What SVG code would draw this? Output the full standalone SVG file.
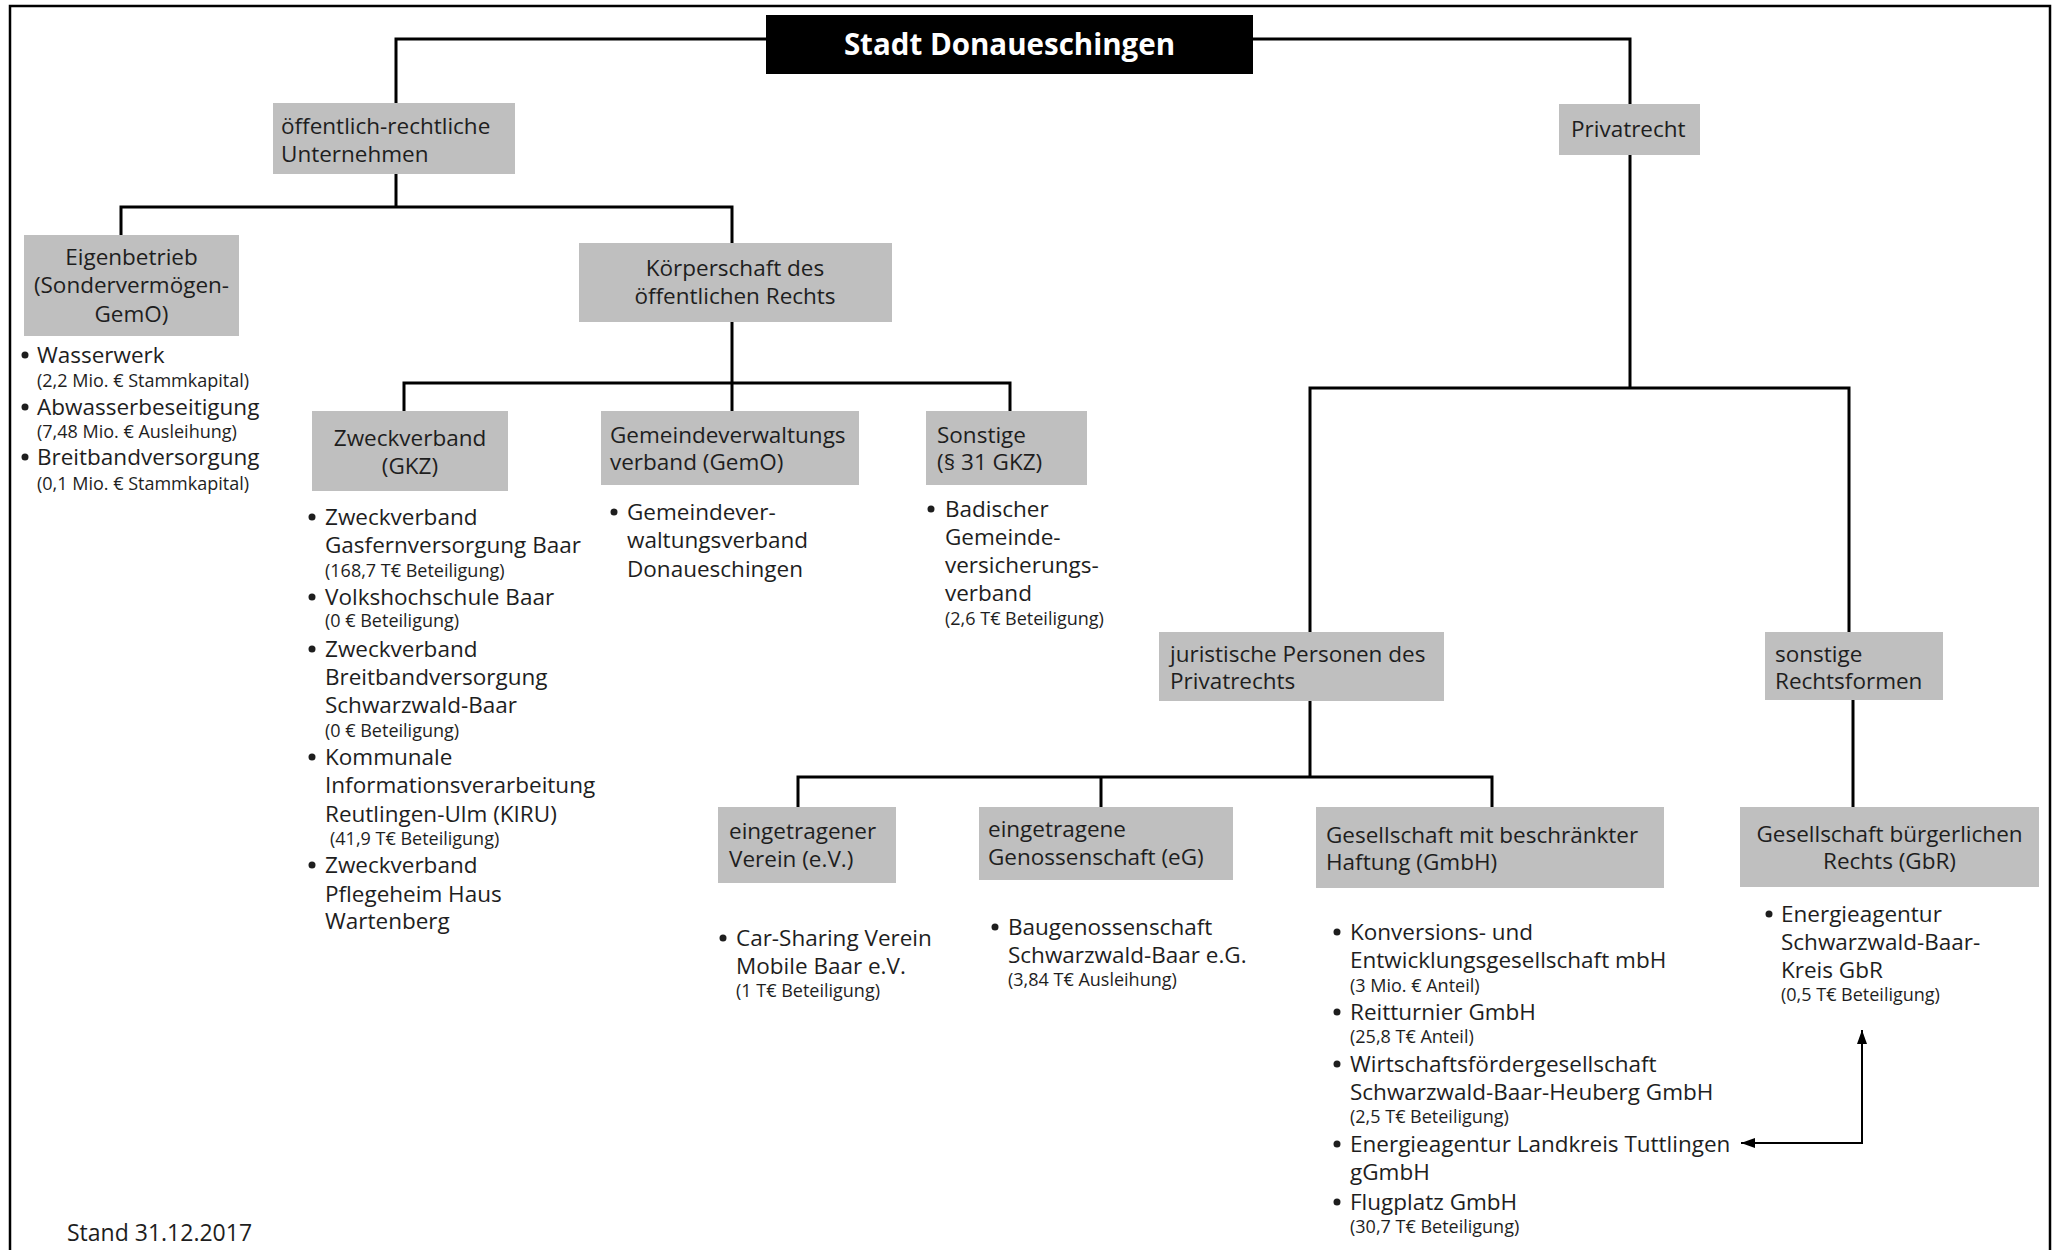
<svg xmlns="http://www.w3.org/2000/svg" width="2058" height="1250" viewBox="0 0 2058 1250">
<style>
text{font-family:"Open Sans","Liberation Sans",sans-serif;fill:#1e1e1e}
.t{font-size:22.5px}
.s{font-size:18px}
.c{text-anchor:middle}
.box{fill:#bfbfbf}
.ln{fill:none;stroke:#000;stroke-width:3}
.ar{fill:none;stroke:#000;stroke-width:2}
.b{fill:#1e1e1e}
</style>
<defs>
<marker id="ah" viewBox="0 0 14 10" refX="14" refY="5" markerWidth="14" markerHeight="10" markerUnits="userSpaceOnUse" orient="auto-start-reverse">
<path d="M0,0 L14,5 L0,10 z" fill="#000"/>
</marker>
</defs>
<rect x="0" y="0" width="2058" height="1250" fill="#fff"/>
<rect id="frame" x="10" y="6" width="2040" height="1260" fill="none" stroke="#000" stroke-width="2.5"/>

<g id="connectors">
<path class="ln" d="M396,103 V39 H1630 V104"/>
<path class="ln" d="M396,174 V207"/>
<path class="ln" d="M121,235 V207 H732 V243"/>
<path class="ln" d="M732,322 V383"/>
<path class="ln" d="M404,411 V383 H1010 V411"/>
<path class="ln" d="M732,383 V411"/>
<path class="ln" d="M1630,155 V388"/>
<path class="ln" d="M1310,632 V388 H1849 V632"/>
<path class="ln" d="M1310,701 V777"/>
<path class="ln" d="M798,807 V777 H1492 V807"/>
<path class="ln" d="M1101,777 V807"/>
<path class="ln" d="M1853,700 V807"/>
<path class="ar" d="M1741,1143 H1862 V1030" marker-start="url(#ah)" marker-end="url(#ah)"/>
</g>

<g id="root">
<rect x="766" y="15" width="487" height="59" fill="#000"/>
<text x="1009.5" y="55" class="c" style="font-size:29.5px;font-weight:700;fill:#fff">Stadt Donaueschingen</text>
</g>

<g id="oeffentlich">
<rect class="box" x="273" y="103" width="242" height="71"/>
<text class="t" x="281" y="134">öffentlich-rechtliche</text>
<text class="t" x="281" y="162">Unternehmen</text>
</g>

<g id="privatrecht">
<rect class="box" x="1559" y="104" width="141" height="51"/>
<text class="t" x="1571" y="137">Privatrecht</text>
</g>

<g id="eigenbetrieb">
<rect class="box" x="24" y="235" width="215" height="101"/>
<text class="t c" x="131.5" y="265">Eigenbetrieb</text>
<text class="t c" x="131.5" y="293">(Sondervermögen-</text>
<text class="t c" x="131.5" y="322">GemO)</text>
<circle class="b" cx="25" cy="355" r="3.5"/>
<text class="t" x="37" y="363">Wasserwerk</text>
<text class="s" x="37" y="387">(2,2 Mio. € Stammkapital)</text>
<circle class="b" cx="25" cy="407" r="3.5"/>
<text class="t" x="37" y="415">Abwasserbeseitigung</text>
<text class="s" x="37" y="438">(7,48 Mio. € Ausleihung)</text>
<circle class="b" cx="25" cy="457" r="3.5"/>
<text class="t" x="37" y="465">Breitbandversorgung</text>
<text class="s" x="37" y="490">(0,1 Mio. € Stammkapital)</text>
</g>

<g id="koerperschaft">
<rect class="box" x="579" y="243" width="313" height="79"/>
<text class="t c" x="735" y="276">Körperschaft des</text>
<text class="t c" x="735" y="304">öffentlichen Rechts</text>
</g>

<g id="zweckverband">
<rect class="box" x="312" y="411" width="196" height="80"/>
<text class="t c" x="410" y="446">Zweckverband</text>
<text class="t c" x="410" y="474">(GKZ)</text>
<circle class="b" cx="312" cy="517" r="3.5"/>
<text class="t" x="325" y="525">Zweckverband</text>
<text class="t" x="325" y="553">Gasfernversorgung Baar</text>
<text class="s" x="325" y="577">(168,7 T€ Beteiligung)</text>
<circle class="b" cx="312" cy="597" r="3.5"/>
<text class="t" x="325" y="605">Volkshochschule Baar</text>
<text class="s" x="325" y="627">(0 € Beteiligung)</text>
<circle class="b" cx="312" cy="649" r="3.5"/>
<text class="t" x="325" y="657">Zweckverband</text>
<text class="t" x="325" y="685">Breitbandversorgung</text>
<text class="t" x="325" y="713">Schwarzwald-Baar</text>
<text class="s" x="325" y="737">(0 € Beteiligung)</text>
<circle class="b" cx="312" cy="757" r="3.5"/>
<text class="t" x="325" y="765">Kommunale</text>
<text class="t" x="325" y="793">Informationsverarbeitung</text>
<text class="t" x="325" y="822">Reutlingen-Ulm (KIRU)</text>
<text class="s" x="330" y="845">(41,9 T€ Beteiligung)</text>
<circle class="b" cx="312" cy="865" r="3.5"/>
<text class="t" x="325" y="873">Zweckverband</text>
<text class="t" x="325" y="902">Pflegeheim Haus</text>
<text class="t" x="325" y="929">Wartenberg</text>
</g>

<g id="gemeindeverwaltungsverband">
<rect class="box" x="601" y="411" width="258" height="74"/>
<text class="t" x="610" y="443">Gemeindeverwaltungs</text>
<text class="t" x="610" y="470">verband (GemO)</text>
<circle class="b" cx="614" cy="512" r="3.5"/>
<text class="t" x="627" y="520">Gemeindever-</text>
<text class="t" x="627" y="548">waltungsverband</text>
<text class="t" x="627" y="577">Donaueschingen</text>
</g>

<g id="sonstige">
<rect class="box" x="926" y="411" width="161" height="74"/>
<text class="t" x="937" y="443">Sonstige</text>
<text class="t" x="937" y="470">(§ 31 GKZ)</text>
<circle class="b" cx="931" cy="509" r="3.5"/>
<text class="t" x="945" y="517">Badischer</text>
<text class="t" x="945" y="545">Gemeinde-</text>
<text class="t" x="945" y="573">versicherungs-</text>
<text class="t" x="945" y="601">verband</text>
<text class="s" x="945" y="625">(2,6 T€ Beteiligung)</text>
</g>

<g id="juristische">
<rect class="box" x="1159" y="632" width="285" height="69"/>
<text class="t" x="1170" y="662">juristische Personen des</text>
<text class="t" x="1170" y="689">Privatrechts</text>
</g>

<g id="sonstigeRechtsformen">
<rect class="box" x="1765" y="632" width="178" height="68"/>
<text class="t" x="1775" y="662">sonstige</text>
<text class="t" x="1775" y="689">Rechtsformen</text>
</g>

<g id="verein">
<rect class="box" x="718" y="807" width="178" height="76"/>
<text class="t" x="729" y="839">eingetragener</text>
<text class="t" x="729" y="867">Verein (e.V.)</text>
<circle class="b" cx="723" cy="938" r="3.5"/>
<text class="t" x="736" y="946">Car-Sharing Verein</text>
<text class="t" x="736" y="974">Mobile Baar e.V.</text>
<text class="s" x="736" y="997">(1 T€ Beteiligung)</text>
</g>

<g id="genossenschaft">
<rect class="box" x="979" y="807" width="254" height="73"/>
<text class="t" x="988" y="837">eingetragene</text>
<text class="t" x="988" y="865">Genossenschaft (eG)</text>
<circle class="b" cx="995" cy="927" r="3.5"/>
<text class="t" x="1008" y="935">Baugenossenschaft</text>
<text class="t" x="1008" y="963">Schwarzwald-Baar e.G.</text>
<text class="s" x="1008" y="986">(3,84 T€ Ausleihung)</text>
</g>

<g id="gmbh">
<rect class="box" x="1316" y="807" width="348" height="81"/>
<text class="t" x="1326" y="843">Gesellschaft mit beschränkter</text>
<text class="t" x="1326" y="870">Haftung (GmbH)</text>
<circle class="b" cx="1337" cy="932" r="3.5"/>
<text class="t" x="1350" y="940">Konversions- und</text>
<text class="t" x="1350" y="968">Entwicklungsgesellschaft mbH</text>
<text class="s" x="1350" y="992">(3 Mio. € Anteil)</text>
<circle class="b" cx="1337" cy="1012" r="3.5"/>
<text class="t" x="1350" y="1020">Reitturnier GmbH</text>
<text class="s" x="1350" y="1043">(25,8 T€ Anteil)</text>
<circle class="b" cx="1337" cy="1064" r="3.5"/>
<text class="t" x="1350" y="1072">Wirtschaftsfördergesellschaft</text>
<text class="t" x="1350" y="1100">Schwarzwald-Baar-Heuberg GmbH</text>
<text class="s" x="1350" y="1123">(2,5 T€ Beteiligung)</text>
<circle class="b" cx="1337" cy="1144" r="3.5"/>
<text class="t" x="1350" y="1152">Energieagentur Landkreis Tuttlingen</text>
<text class="t" x="1350" y="1180">gGmbH</text>
<circle class="b" cx="1337" cy="1202" r="3.5"/>
<text class="t" x="1350" y="1210">Flugplatz GmbH</text>
<text class="s" x="1350" y="1233">(30,7 T€ Beteiligung)</text>
</g>

<g id="gbr">
<rect class="box" x="1740" y="807" width="299" height="80"/>
<text class="t c" x="1889.5" y="842">Gesellschaft bürgerlichen</text>
<text class="t c" x="1889.5" y="869">Rechts (GbR)</text>
<circle class="b" cx="1769" cy="914" r="3.5"/>
<text class="t" x="1781" y="922">Energieagentur</text>
<text class="t" x="1781" y="950">Schwarzwald-Baar-</text>
<text class="t" x="1781" y="978">Kreis GbR</text>
<text class="s" x="1781" y="1001">(0,5 T€ Beteiligung)</text>
</g>

<g id="stand">
<text x="67" y="1241" style="font-size:23px">Stand 31.12.2017</text>
</g>
</svg>
